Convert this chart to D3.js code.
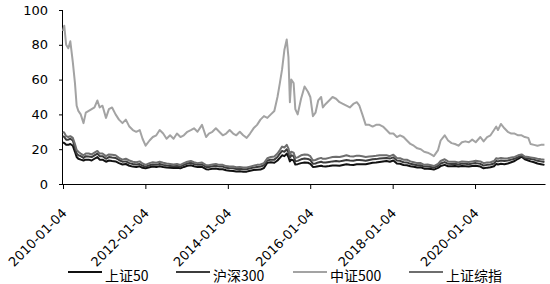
<!DOCTYPE html>
<html>
<head>
<meta charset="utf-8">
<script src="https://cdn.jsdelivr.net/npm/d3@7"></script>
<style>
  html, body { margin: 0; padding: 0; background: #fff; }
  svg { display: block; }
</style>
</head>
<body>
<svg id="chart" width="550" height="284"></svg>
<script>
const dates = [
"2010-01-04","2010-01-15","2010-02-01","2010-02-20","2010-03-10","2010-04-01","2010-04-20","2010-05-05","2010-05-20","2010-06-10",
"2010-07-05","2010-07-25","2010-08-20","2010-09-15","2010-10-10","2010-11-05","2010-11-25","2010-12-20","2011-01-20","2011-02-15",
"2011-03-15","2011-04-15","2011-05-15","2011-06-15","2011-07-15","2011-08-15","2011-09-15","2011-10-15","2011-11-15","2011-12-10",
"2012-01-06","2012-02-10","2012-03-10","2012-04-10","2012-05-10","2012-06-10","2012-07-10","2012-08-10","2012-09-10","2012-10-10",
"2012-11-10","2012-12-10","2013-01-10","2013-02-10","2013-03-10","2013-04-10","2013-05-20","2013-06-25","2013-07-20","2013-08-20",
"2013-09-20","2013-10-20","2013-11-20","2013-12-20","2014-01-20","2014-02-20","2014-03-20","2014-04-20","2014-05-20","2014-06-20",
"2014-07-20","2014-08-20","2014-09-20","2014-10-20","2014-11-20","2014-12-20","2015-01-20","2015-02-20","2015-03-20","2015-04-10",
"2015-04-30","2015-05-20","2015-06-10","2015-06-25","2015-07-08","2015-07-20","2015-08-10","2015-08-25","2015-09-15","2015-10-15",
"2015-11-15","2015-12-15","2016-01-05","2016-01-28","2016-02-20","2016-03-15","2016-04-10","2016-04-25","2016-05-20","2016-06-20",
"2016-07-20","2016-08-20","2016-09-20","2016-10-20","2016-11-20","2016-12-20","2017-01-20","2017-02-20","2017-03-15","2017-04-10",
"2017-05-10","2017-06-10","2017-07-10","2017-08-10","2017-09-10","2017-10-10","2017-11-10","2017-12-10","2018-01-10","2018-02-10",
"2018-03-10","2018-04-10","2018-05-10","2018-06-10","2018-07-10","2018-08-10","2018-09-10","2018-10-10","2018-11-10","2018-12-10",
"2019-01-04","2019-02-10","2019-03-05","2019-04-10","2019-05-10","2019-06-10","2019-07-10","2019-08-10","2019-09-10","2019-10-10",
"2019-11-10","2019-12-10","2020-01-10","2020-02-20","2020-03-20","2020-04-20","2020-05-20","2020-06-20","2020-07-10","2020-07-25",
"2020-08-20","2020-09-20","2020-10-20","2020-11-20","2020-12-20","2021-01-20","2021-02-20","2021-03-20","2021-04-20","2021-05-10",
"2021-06-10","2021-07-10","2021-08-10","2021-09-10"
];

// 上证50
const sz50 = [
24,23.5,22.5,22.5,23,22,18.5,15.5,14.5,14,
13.5,14,14,13.5,14.5,15.5,14,14,12.8,13.5,
13.2,13,12,11.2,11.5,10.5,10,9.8,10.2,9.3,
9,9.6,10,9.8,10.2,9.8,9.5,9.3,9.2,9.3,
9,9.8,10.5,10.8,10.2,9.7,9.8,8.5,8.4,8.7,
8.9,8.5,8.5,7.9,7.6,7.5,7.2,7.3,7.1,7.1,
7.6,8,8.2,8.3,9.2,12.2,12.5,12.2,13.5,15,
16.5,16,17.5,15.5,13,14,13.5,11.2,11.4,12,
12.3,12.2,11.6,9.8,9.9,10.2,10.5,10.2,10.1,10.3,
10.6,10.7,10.5,10.9,11.3,11,10.9,11.3,11.3,11.3,
11.3,11.8,12.2,12.3,12.6,12.9,13.2,12.8,13.5,11.8,
11.6,10.9,10.8,10.2,9.9,9.5,9.6,8.8,8.8,8.6,
8.3,9.3,10.3,11,10.2,10.2,10.4,10,10.4,10.2,
10,10.3,10.5,10,9,9.4,9.6,10.2,11.6,11.2,
11.6,11.4,11.8,12.5,13.2,14.5,15.7,14.2,13.5,13,
12.5,11.8,11.4,11
];

// 沪深300
const hs300 = [
27.5,27,25.5,25.5,26,25,21,17.5,16.5,16,
15,16,15.8,15.5,16.5,17.5,16,16,14.5,15.5,
15.2,15,13.8,12.8,13,12,11.5,11.2,11.5,10.5,
10,10.8,11.2,11,11.5,11,10.6,10.4,10.2,10.4,
10,11,11.8,12.2,11.5,11,11.2,9.8,9.8,10.2,
10.5,10,10,9.3,9,9,8.6,8.8,8.5,8.5,
9,9.4,9.8,10,10.8,13.5,14,14,15.5,17.5,
19,18.5,20,18,15,16.5,16,13,13.3,14.2,
14.6,14.4,13.8,11.6,11.8,12.4,12.8,12.4,12.3,12.7,
13,13.2,13,13.4,13.8,13.5,13.4,13.8,13.8,13.6,
13.4,13.8,14.2,14.3,14.6,14.8,15,14.6,15.3,13.5,
13.3,12.5,12.4,11.6,11.2,10.8,10.8,10,10.1,9.8,
9.4,10.5,11.8,12.6,11.6,11.5,11.6,11.2,11.8,11.6,
11.4,11.8,12,11.6,10.6,11,11.2,11.8,13.3,13,
13.5,13.2,13.5,14,14.5,15.5,16.3,15,14.6,14.4,
14,13.3,13,12.6
];

// 中证500
const zz500 = [
88,91,80,78,82,70,58,45,42,40,
35,41,42,43,44,48,44,45,38,43,
44,40,37,35,37,33,31,30,31,26,
22,25,27,28,31,29,26,28,26,29,
27,28,30,31,32,30,34,27,29,30,
32,30,28,29,31,29,28,30,28,26.5,
29,32,34,37,39,38,40,42,50,58,
66,77,83,73,47,60,58,43,40,49,
56,53,50,39,41,48,50,44,46,48,
50,49,47,46,45,44,46,47,45,40,
34,34,33,34,34,33,31,29,29,27,
28,27,25,23,22,20.5,20,18.5,18,17,
16,19.5,25,28,25,23.5,23,22,24,24.5,
24,25.5,24,27,24.5,27,28,31,33,31,
34.5,32,30,29,29,28,28,27,26.5,23,
22.5,22,22.5,22.5
];

// 上证综指
const szzz = [
30,29.5,27.5,27,27.5,26.5,23,19.5,18.5,17.5,
16.5,17.5,17.5,17,18,19,17.5,17.5,16,17,
16.8,16.5,15,14,14.5,13.5,12.8,12.5,13,11.8,
11,12,12.5,12.2,12.8,12.2,11.8,11.5,11.2,11.5,
11,12,12.8,13.2,12.5,12,12.3,10.8,10.8,11.2,
11.5,11,11,10.3,10,10,9.6,9.8,9.5,9.5,
10,10.5,11,11.2,12,14.8,15.5,15.8,17.5,19.5,
21.5,21,22.5,20.5,17,18.5,18,15,15.3,16.5,
17,16.8,16,13.5,13.8,14.5,15,14.5,14.5,15,
15.5,15.7,15.5,16,16.5,16,15.8,16.3,16.2,16,
15.5,15.8,16,16.2,16.5,16.5,16.5,16,16.8,15,
14.8,14,14,13,12.5,12,12,11,11.2,10.8,
10.3,11.5,13.2,14.2,13,12.8,12.8,12.4,13,12.8,
12.6,13,13.3,13,12,12.3,12.5,13.2,14.8,14.5,
15,14.6,14.8,15.2,15.6,16.5,17,15.8,15.5,15.3,
15,14.5,14.2,14
];

const seriesNames = ["上证50", "沪深300", "中证500", "上证综指"];
const seriesColors = ["#111111", "#3c3c3c", "#a3a3a3", "#6e6e6e"];
const tickLabels = ["2010-01-04","2012-01-04","2014-01-04","2016-01-04","2018-01-04","2020-01-04"];
const yTicks = [0, 20, 40, 60, 80, 100];

const parse = d3.timeParse("%Y-%m-%d");
const dateObjs = dates.map(parse);
const allSeries = [sz50, hs300, zz500, szzz];

const svg = d3.select("#chart");
const x = d3.scaleTime()
  .domain([parse("2010-01-04"), parse("2021-09-15")])
  .range([63, 545]);
const y = d3.scaleLinear().domain([0, 100]).range([184, 10]);

const font = "'DejaVu Sans', Verdana, sans-serif";

// Y axis
const yAxis = svg.append("g")
  .attr("transform", "translate(63,0)")
  .call(d3.axisLeft(y).tickValues(yTicks).tickSize(4).tickPadding(11).tickFormat(d3.format("d")));
yAxis.select(".domain").attr("stroke", "#000").attr("d", "M-0.5,10.5V184.5");
yAxis.selectAll("text").attr("font-family", font).attr("font-size", 13).attr("fill", "#000");

// X axis
const xAxis = svg.append("g")
  .attr("transform", "translate(0,184)")
  .call(d3.axisBottom(x).tickValues(tickLabels.map(parse)).tickSize(5).tickSizeOuter(0).tickFormat(d3.timeFormat("%Y-%m-%d")));
xAxis.select(".domain").attr("stroke", "#000");
xAxis.selectAll("text")
  .attr("font-family", font).attr("font-size", 13).attr("fill", "#000")
  .attr("text-anchor", "end")
  .attr("dy", null)
  .attr("y", null)
  .attr("transform", "translate(4,30) rotate(-45)");

// Lines
const line = d3.line()
  .x((d, i) => x(dateObjs[i]))
  .y(d => y(d));

allSeries.forEach((vals, k) => {
  svg.append("path")
    .datum(vals)
    .attr("fill", "none")
    .attr("stroke", seriesColors[k])
    .attr("stroke-width", 2)
    .attr("stroke-linejoin", "round")
    .attr("d", line);
});

// Legend
const legendX = [68, 176, 293, 409];
const legend = svg.append("g");
seriesNames.forEach((name, k) => {
  const g = legend.append("g").attr("transform", `translate(${legendX[k]},272)`);
  g.append("line").attr("x1", 0).attr("x2", 34).attr("y1", 0).attr("y2", 0)
    .attr("stroke", seriesColors[k]).attr("stroke-width", 2);
  g.append("text").attr("x", 37).attr("y", 8.5)
    .attr("font-family", "'Noto Sans CJK SC', sans-serif").attr("font-size", 14)
    .attr("fill", "#000").text(name);
});
</script>
</body>
</html>
